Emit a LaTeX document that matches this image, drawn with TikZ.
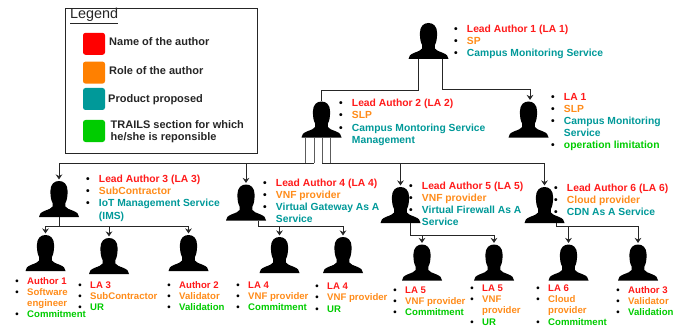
\documentclass[tikz,border=0pt]{standalone}
\usepackage{fontspec}
\setmainfont{Liberation Sans}
\usetikzlibrary{arrows.meta}
\definecolor{cred}{HTML}{FF1A1A}
\definecolor{corange}{HTML}{FF8C1A}
\definecolor{cteal}{HTML}{009999}
\definecolor{cgreen}{HTML}{00CC00}
\definecolor{sorange}{HTML}{FF8000}
\definecolor{sgreen}{HTML}{00CC00}
\definecolor{ink}{HTML}{262626}
\tikzset{
  personbox/.style={minimum width=40pt,minimum height=36pt,inner sep=0pt,outer sep=0pt},
  conn/.style={draw=ink,line width=0.9pt},
  stem/.style={draw=ink!75,line width=0.9pt},
  arr/.style={conn,-{Stealth[length=5pt,width=6.5pt]},shorten >=1.5pt},
  swatch/.style={fill=#1,rounded corners=2.5pt,minimum width=22pt,minimum height=22pt,inner sep=0pt},
  legtext/.style={anchor=west,inner sep=0pt,align=left,text=ink,font=\fontsize{11}{12.5}\selectfont\bfseries},
  blocktext/.style={anchor=north west,inner sep=0pt,outer sep=0pt,align=left}
}
\newcommand{\person}[3]{%
  \node[personbox] (#1) at (#2,#3) {};
  \fill[black,shift={(#1.center)}] (-20,18) .. controls (-19.7,15) and (-18.5,13.5) .. (-14,11.7)
    .. controls (-10.5,10.3) and (-7.3,9.5) .. (-6.4,7.5)
    .. controls (-6,6.5) and (-6,5.5) .. (-6.3,4.2)
    .. controls (-8,1.5) and (-8.6,-3) .. (-8.6,-8)
    .. controls (-8.6,-15) and (-4.5,-18) .. (0,-18)
    .. controls (4.5,-18) and (8.6,-15) .. (8.6,-8)
    .. controls (8.6,-3) and (8,1.5) .. (6.3,4.2)
    .. controls (6,5.5) and (6,6.5) .. (6.4,7.5)
    .. controls (7.3,9.5) and (10.5,10.3) .. (14,11.7)
    .. controls (18.5,13.5) and (19.7,15) .. (20,18) -- cycle;
}
\newcommand{\bu}[2]{\makebox[1.24em][l]{\color{black}•}\textcolor{#1}{\strut #2}}
\newcommand{\cn}[2]{\makebox[1.24em][l]{}\textcolor{#1}{\strut #2}}
\newcommand{\block}[5]{%
  \node[blocktext,xshift=-1.8pt,yshift={(0.7*#4-3.7)*1pt},font=\fontsize{10.3}{#4}\selectfont\bfseries] (#1) at (#2,#3) {#5};
}
\newcommand{\lowblock}[5]{%
  \node[blocktext,xshift=-1.7pt,yshift={(0.7*#4-3.5)*1pt},font=\fontsize{9.6}{#4}\selectfont\bfseries] (#1) at (#2,#3) {#5};
}
\begin{document}
\begin{tikzpicture}[x=1pt,y=-1pt]
\useasboundingbox[fill=white] (0,0) rectangle (690,326);

% legend
\node[draw=ink,line width=0.9pt,minimum width=192pt,minimum height=144.5pt,inner sep=0pt] (legend) at (161.6,80.7) {};
\node[anchor=west,inner sep=0pt,text=ink,font=\fontsize{14.4}{16}\selectfont] (legtitle) at (70,16) {\underline{Legend}};
\node[swatch=red] (s1) at (94,43.8) {};
\node[swatch=sorange] (s2) at (94,72.6) {};
\node[swatch=cteal] (s3) at (94,99) {};
\node[swatch=sgreen] (s4) at (94,131) {};
\node[legtext] (l1) at (109,42) {Name of the author};
\node[legtext] (l2) at (109,70.5) {Role of the author};
\node[legtext] (l3) at (108,99.5) {Product proposed};
\node[legtext] (l4) at (110.5,131.7) {TRAILS section for which\\he/she is reponsible};

% people
\person{la1}{428.5}{41}
\person{la1b}{528.5}{119.5}
\person{la2}{321.5}{119.5}
\person{la3}{59}{199}
\person{la4}{246}{202.5}
\person{la5}{400.5}{205}
\person{la6}{544.5}{205}
\person{a1}{45.5}{253}
\person{la3b}{109}{256}
\person{a2}{188.5}{253}
\person{la4a}{279.5}{255}
\person{la4b}{343}{255}
\person{la5a}{422}{262.5}
\person{la5b}{494}{262.5}
\person{la6a}{568.5}{262.5}
\person{a3}{638}{262.5}

% connectors
\draw[conn] ([xshift=-10.5pt]la1.south) -- ++(0,31) -| (la2.north);
\draw[arr] ([xshift=13.5pt]la1.south) -- ++(0,30.5) -| ([xshift=1.5pt]la1b.north);
\draw[stem] ([xshift=-16.5pt]la2.south) -- ++(0,25);
\draw[stem] ([xshift=-7.5pt]la2.south) -- ++(0,25);
\draw[stem] ([xshift=0.5pt]la2.south) -- ++(0,25);
\draw[stem] ([xshift=8.5pt]la2.south) -- ++(0,25);
\draw[arr] ([xshift=-16.5pt,yshift=-25.5pt]la2.south) -| (la3.north);
\draw[arr] ([xshift=-7.5pt,yshift=-25.5pt]la2.south) -| (la4.north);
\draw[arr] ([xshift=0.5pt,yshift=-25.5pt]la2.south) -| (la5.north);
\draw[arr] ([xshift=8.5pt,yshift=-25.5pt]la2.south) -| (la6.north);
\draw[arr] (la3.south) -- ++(0,9) -| (a1.north);
\draw[arr] (la3.south) -- ++(0,9) -| (la3b.north);
\draw[arr] (la3.south) -- ++(0,9) -| (a2.north);
\draw[arr] ([xshift=12pt]la4.south) -- ++(0,5.5) -| (la4a.north);
\draw[arr] ([xshift=12pt]la4.south) -- ++(0,5.5) -| (la4b.north);
\draw[arr] ([xshift=9.5pt]la5.south) -- ++(0,12) -| (la5a.north);
\draw[arr] ([xshift=9.5pt]la5.south) -- ++(0,12) -| (la5b.north);
\draw[arr] ([xshift=11.5pt]la6.south) -- ++(0,3.5) -| (la6a.north);
\draw[arr] ([xshift=11.5pt]la6.south) -- ++(0,3.5) -| (a3.north);

% text blocks
\block{t1}{456}{28.5}{12}{\bu{cred}{Lead Author 1 (LA 1)}\\\bu{corange}{SP}\\\bu{cteal}{Campus Monitoring Service}}
\block{t1b}{553}{96.7}{12}{\bu{cred}{LA 1}\\\bu{corange}{SLP}\\\bu{cteal}{Campus Monitoring}\\\cn{cteal}{Service}\\\bu{cgreen}{operation limitation}}
\block{t2}{341}{103}{12.2}{\bu{cred}{Lead Author 2 (LA 2)}\\\bu{corange}{SLP}\\\bu{cteal}{Campus Montoring Service}\\\cn{cteal}{Management}}
\block{t3}{88}{179}{12.1}{\bu{cred}{Lead Author 3 (LA 3)}\\\bu{corange}{SubContractor}\\\bu{cteal}{IoT Management Service}\\\cn{cteal}{(IMS)}}
\block{t4}{265}{182.5}{12}{\bu{cred}{Lead Author 4 (LA 4)}\\\bu{corange}{VNF provider}\\\bu{cteal}{Virtual Gateway As A}\\\cn{cteal}{Service}}
\block{t5}{411}{185.7}{12}{\bu{cred}{Lead Author 5 (LA 5)}\\\bu{corange}{VNF provider}\\\bu{cteal}{Virtual Firewall As A}\\\cn{cteal}{Service}}
\block{t6}{556}{188}{12}{\bu{cred}{Lead Author 6 (LA 6)}\\\bu{corange}{Cloud provider}\\\bu{cteal}{CDN As A Service}}
\lowblock{ta1}{17}{280.7}{11.2}{\bu{cred}{Author 1}\\\bu{corange}{Software}\\\cn{corange}{engineer}\\\bu{cgreen}{Commitment}}
\lowblock{tla3b}{80}{284.7}{11.2}{\bu{cred}{LA 3}\\\bu{corange}{SubContractor}\\\bu{cgreen}{UR}}
\lowblock{ta2}{169}{284.7}{11.2}{\bu{cred}{Author 2}\\\bu{corange}{Validator}\\\bu{cgreen}{Validation}}
\lowblock{tla4a}{238}{284.7}{11.2}{\bu{cred}{LA 4}\\\bu{corange}{VNF provider}\\\bu{cgreen}{Commitment}}
\lowblock{tla4b}{317}{286}{11.3}{\bu{cred}{LA 4}\\\bu{corange}{VNF provider}\\\bu{cgreen}{UR}}
\lowblock{tla5a}{395}{290}{11.2}{\bu{cred}{LA 5}\\\bu{corange}{VNF provider}\\\bu{cgreen}{Commitment}}
\lowblock{tla5b}{472}{288}{11.2}{\bu{cred}{LA 5}\\\bu{corange}{VNF}\\\cn{corange}{provider}\\\bu{cgreen}{UR}}
\lowblock{tla6a}{538}{288}{11.2}{\bu{cred}{LA 6}\\\bu{corange}{Cloud}\\\cn{corange}{provider}\\\bu{cgreen}{Commitment}}
\lowblock{ta3}{618}{290}{11.2}{\bu{cred}{Author 3}\\\bu{corange}{Validator}\\\bu{cgreen}{Validation}}
\end{tikzpicture}
\end{document}
